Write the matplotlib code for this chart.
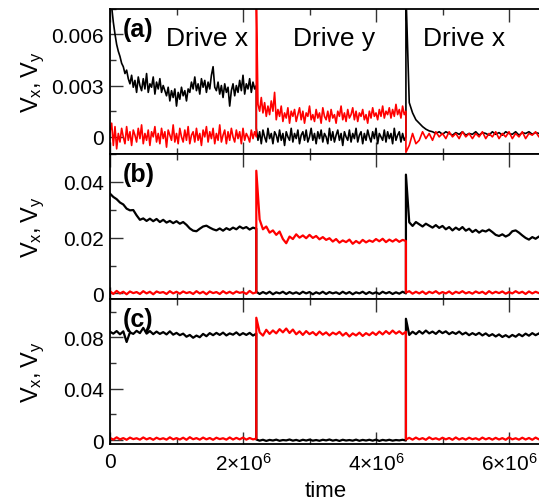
import numpy as np
import matplotlib
matplotlib.use("Agg")
import matplotlib.pyplot as plt
from matplotlib.ticker import MultipleLocator, FuncFormatter

plt.rcParams['font.family'] = ['Liberation Sans', 'DejaVu Sans']
plt.rcParams['mathtext.fontset'] = 'custom'
plt.rcParams['mathtext.rm'] = 'Liberation Sans'
plt.rcParams['mathtext.it'] = 'Liberation Sans:italic'

# switching times of the drive direction (x -> y -> x)
t_switch = [0.0, 2.2e6, 4.45e6, 6.5e6]
phase_names = ['Drive x', 'Drive y', 'Drive x']

# all velocities below in units of 1e-3, one list per drive phase
# ---- panel (a)
a_vx_1 = [8.5, 7.6, 6.7, 6.0, 5.4, 5.0, 4.7, 4.3, 4.1, 3.7, 3.9, 3.4, 3.1, 3.6, 2.9, 3.3,
          2.6, 3.5, 3.0, 2.7, 3.4, 2.8, 3.7, 2.6, 3.1, 2.9, 3.5, 2.5, 3.2, 2.8, 3.4, 2.6, 3.0, 2.7,
          2.4, 2.9, 2.1, 2.7, 2.3, 2.8, 1.8, 2.6, 2.2, 2.9, 2.4, 2.7, 2.1, 2.8,
          2.6, 3.2, 2.8, 3.5, 2.7, 3.1, 2.5, 3.4, 2.9, 3.3, 2.6, 3.2, 2.8, 3.6, 4.1, 2.9,
          2.7, 3.2, 2.5, 3.0, 2.3, 3.1, 2.6, 2.9, 1.8, 2.7, 3.1, 2.4,
          3.0, 2.6, 3.3, 2.7, 3.6, 2.5, 3.1, 2.8, 3.4, 2.6, 3.2, 2.8, 3.0]
a_vy_1 = [0.3, 0.8, -0.5, 0.6, -0.7, 0.2, -0.3, 0.5, 0.0, -0.4,
          0.6, -0.2, 0.3, -0.5, 0.4, 0.1, -0.3, 0.5, -0.1, 0.7,
          -0.4, 0.2, -0.2, 0.4, -0.5, 0.3, 0.0, 0.6, -0.3, 0.2,
          -0.4, 0.5, -0.1, 0.3, -0.6, 0.4, 0.1, -0.2, 0.7, -0.3,
          0.2, -0.4, 0.5, 0.0, -0.3, 0.4, -0.2, 0.6, -0.4, 0.1,
          0.3, -0.3, 0.5, -0.2, 0.2, -0.5, 0.4, 0.0, 0.6, -0.3,
          0.3, -0.1, 0.5, -0.4, 0.2, -0.2, 0.7, -0.3, 0.1, 0.4,
          -0.4, 0.3, -0.2, 0.5, 0.0, -0.3, 0.4, -0.1, 0.3, -0.4,
          0.5, -0.2, 0.2, 0.0, -0.3, 0.4, -0.1, 0.3, 0.0]
a_vx_2 = [0.5, -0.2, 0.3, -0.4, 0.4, 0.0, -0.3, 0.5, -0.1, 0.2,
          -0.4, 0.3, 0.1, -0.3, 0.4, -0.2, 0.2, -0.5, 0.3, 0.0,
          -0.2, 0.5, -0.3, 0.2, -0.1, 0.4, -0.4, 0.1, 0.3, -0.2,
          0.4, -0.3, 0.0, 0.5, -0.2, 0.2, -0.4, 0.3, -0.1, 0.4,
          -0.3, 0.2, 0.0, -0.4, 0.5, -0.2, 0.3, -0.3, 0.1, 0.4,
          -0.2, 0.2, -0.5, 0.3, 0.0, -0.2, 0.4, -0.3, 0.2, -0.1,
          0.5, -0.3, 0.1, 0.3, -0.4, 0.2, -0.2, 0.4, 0.0, -0.3,
          0.3, -0.1, 0.5, -0.4, 0.2, 0.0, -0.2, 0.4, -0.3, 0.3,
          -0.1, 0.2, -0.4, 0.5, -0.2, 0.1, 0.3, -0.3, 0.2, -0.2,
          0.0]
a_vy_2 = [8.5, 1.9, 1.5, 2.3, 1.4, 2.0, 1.2, 1.8, 1.3, 2.1,
          1.5, 2.6, 1.0, 1.6, 1.2, 1.8, 0.9, 1.4, 1.1, 1.7,
          0.8, 1.5, 1.2, 1.6, 0.9, 1.3, 1.7, 1.0, 1.5, 0.8,
          1.4, 1.2, 1.8, 1.0, 1.3, 0.9, 1.6, 1.1, 1.4, 0.8,
          1.7, 1.2, 1.0, 1.5, 0.9, 1.6, 1.1, 1.3, 0.8, 1.5,
          1.2, 1.8, 1.0, 1.4, 0.9, 1.6, 1.1, 1.3, 1.7, 1.0,
          1.5, 0.9, 1.4, 1.2, 1.6, 1.0, 1.3, 0.8, 1.5, 1.1,
          1.7, 1.2, 1.4, 1.0, 1.6, 1.2, 1.8, 1.1, 1.5, 1.3,
          1.7, 1.1, 1.6, 1.2, 1.9, 1.3, 1.6, 1.1, 1.8, 1.3,
          1.5]
a_vx_3 = [8.5, 2.0, 1.4, 1.0, 0.8, 0.6, 0.45, 0.35, 0.3, 0.2,
          0.3, 0.15, 0.3, 0.2, 0.1, 0.25, 0.15, 0.3, 0.1, 0.2,
          0.15, 0.3, 0.1, 0.25, 0.2, 0.1, 0.3, 0.15, 0.25, 0.1,
          0.3, 0.2, 0.15, 0.3, 0.1, 0.25, 0.2, 0.3, 0.15, 0.25,
          0.2, 0.2]
a_vy_3 = [-0.9, -0.5, 0.2, -0.4, -0.2, 0.3, -0.1, 0.2, -0.2, 0.3,
          0.0, 0.2, -0.1, 0.3, 0.0, 0.2, -0.1, 0.3, 0.0, 0.2,
          -0.1, 0.2, 0.0, 0.3, -0.1, 0.2, 0.0, 0.3, -0.1, 0.2,
          0.0, 0.3, -0.1, 0.2, 0.0, 0.3, -0.1, 0.2, 0.1, 0.3,
          0.0, 0.2]

# ---- panel (b)
b_vx_1 = [35.8, 34.6, 33.8, 32.6, 31.9, 30.4, 29.8, 29.9, 28.0, 26.4,
          26.9, 26.0, 26.8, 25.9, 26.7, 25.6, 26.4, 25.4, 26.0, 25.2,
          25.9, 25.0, 25.6, 24.6, 23.3, 22.5, 22.3, 23.2, 24.0, 24.3,
          23.6, 23.0, 22.6, 23.3, 22.5, 23.4, 22.8, 23.6, 23.0, 24.0,
          23.3, 23.8, 22.9, 23.6, 23.2]
b_vy_1 = [0.8, -0.2, 0.9, 0.0, 0.6, -0.3, 0.7, 0.1, 0.5, -0.2,
          0.8, 0.0, 0.6, -0.3, 0.7, 0.2, 0.5, -0.2, 0.8, 0.0,
          0.6, -0.1, 0.7, 0.1, 0.5, -0.2, 0.8, 0.0, 0.6, -0.3,
          0.7, 0.1, 0.5, -0.2, 0.8, 0.0, 0.6, -0.1, 0.7, 0.2,
          0.5, -0.2, 0.9, 0.0, 0.4]
b_vx_2 = [0.6, -0.2, 0.5, -0.1, 0.6, -0.3, 0.4, 0.0, 0.6, -0.2,
          0.5, -0.1, 0.4, -0.2, 0.6, 0.0, 0.5, -0.3, 0.4, -0.1,
          0.6, -0.2, 0.5, 0.0, 0.4, -0.2, 0.6, -0.1, 0.5, -0.3,
          0.4, 0.0, 0.6, -0.2, 0.5, -0.1, 0.4, -0.2, 0.6, 0.0,
          0.5, -0.2, 0.4, -0.1, 0.6, 0.0]
b_vy_2 = [44.0, 26.5, 23.0, 24.0, 21.8, 22.6, 21.0, 22.2, 19.5, 18.0,
          20.4, 19.5, 21.2, 20.0, 20.8, 19.8, 21.0, 19.9, 20.6, 19.4,
          20.2, 19.2, 19.8, 18.6, 19.5, 18.2, 19.0, 18.4, 19.3, 17.8,
          18.8, 18.0, 19.2, 18.3, 19.0, 18.5, 19.5, 18.7, 19.6, 18.4,
          19.3, 18.6, 19.4, 18.5, 19.2, 18.8]
b_vx_3 = [42.6, 25.5, 24.2, 25.6, 24.8, 24.0, 25.0, 24.3, 23.6, 24.5,
          23.5, 24.2, 23.0, 23.8, 22.6, 23.6, 22.8, 23.8, 22.5, 23.2,
          22.0, 22.8, 21.8, 22.6, 22.2, 22.9, 22.0, 21.0, 20.6, 21.2,
          20.4, 21.0, 22.3, 22.6, 21.8, 20.8, 19.9, 19.3, 20.2, 19.6,
          20.4, 19.8]
b_vy_3 = [0.3, 0.8, -0.1, 0.6, 0.0, 0.7, -0.2, 0.6, 0.1, 0.8,
          -0.1, 0.5, 0.0, 0.7, -0.2, 0.6, 0.1, 0.8, 0.0, 0.5,
          -0.1, 0.7, 0.1, 0.6, -0.2, 0.8, 0.0, 0.6, 0.1, 0.7,
          -0.1, 0.5, 0.0, 0.8, 0.1, 0.6, -0.2, 0.7, 0.0, 0.6,
          0.1, 0.5]

# ---- panel (c)
c_vx_1 = [84.5, 83.0, 85.0, 82.5, 84.8, 76.5, 84.0, 82.8, 85.2, 83.4,
          87.5, 83.0, 85.0, 82.6, 84.6, 82.8, 84.2, 82.4, 84.8, 82.2,
          83.6, 81.8, 83.0, 80.6, 82.0, 79.8, 81.5, 80.2, 82.8, 81.0,
          83.4, 81.8, 83.6, 82.0, 83.8, 81.6, 83.2, 82.2, 84.0, 81.8,
          83.4, 82.0, 83.6, 81.5, 83.0]
c_vy_1 = [1.8, 0.4, 2.2, 0.6, 1.6, 0.3, 2.0, 0.8, 1.5, 0.4,
          2.1, 0.6, 1.7, 0.3, 1.9, 0.7, 1.5, 0.4, 2.2, 0.6,
          1.6, 0.5, 1.9, 0.3, 2.3, 0.7, 1.6, 0.4, 2.0, 0.6,
          1.7, 0.3, 1.9, 0.8, 1.5, 0.4, 2.1, 0.5, 1.8, 0.6,
          2.0, 0.4, 1.7, 0.6, 1.2]
c_vx_2 = [0.5, -0.4, 0.3, -0.6, 0.2, -0.3, 0.4, -0.5, 0.1, -0.2,
          0.5, -0.4, 0.2, -0.6, 0.3, -0.3, 0.4, -0.4, 0.1, -0.5,
          0.3, -0.2, 0.5, -0.4, 0.2, -0.6, 0.3, -0.3, 0.1, -0.4,
          0.4, -0.5, 0.2, -0.3, 0.3, -0.4, 0.4, -0.6, 0.2, -0.3,
          0.3, -0.4, 0.1, -0.2, 0.3, -0.3]
c_vy_2 = [95.4, 84.0, 81.5, 86.0, 82.8, 85.5, 83.2, 86.5, 84.0, 87.0,
          83.5, 86.2, 82.5, 84.8, 82.0, 85.0, 82.6, 84.2, 81.8, 84.6,
          82.2, 84.0, 81.6, 83.8, 82.4, 84.4, 81.5, 83.6, 80.8, 83.2,
          81.6, 83.8, 81.2, 83.4, 81.8, 84.0, 82.0, 84.6, 82.4, 85.0,
          82.8, 85.4, 83.0, 84.8, 82.6, 84.5]
c_vx_3 = [94.6, 82.0, 84.5, 82.6, 85.0, 83.0, 85.4, 83.2, 84.6, 82.8,
          85.2, 83.4, 84.8, 82.6, 84.2, 82.8, 84.6, 82.4, 83.8, 81.8,
          83.4, 82.0, 83.6, 81.6, 83.2, 81.2, 82.6, 80.8, 82.4, 80.4,
          81.8, 80.2, 82.0, 80.6, 82.6, 81.0, 83.0, 81.4, 83.4, 81.8,
          83.2, 82.0]
c_vy_3 = [0.5, 1.8, 0.4, 2.0, 0.6, 1.6, 0.3, 2.2, 0.7, 1.5,
          0.4, 1.9, 0.6, 1.7, 0.3, 2.1, 0.5, 1.6, 0.4, 1.9,
          0.7, 1.5, 0.3, 2.0, 0.6, 1.7, 0.4, 1.8, 0.5, 1.6,
          0.3, 2.1, 0.6, 1.5, 0.4, 1.9, 0.5, 1.7, 0.3, 2.0,
          0.6, 1.6]

panels = [
    ('(a)', [a_vx_1, a_vx_2, a_vx_3], [a_vy_1, a_vy_2, a_vy_3], (-0.001, 0.0075), 0.003, 0.0015, 1.2),
    ('(b)', [b_vx_1, b_vx_2, b_vx_3], [b_vy_1, b_vy_2, b_vy_3], (-0.002, 0.050), 0.02, 0.01, 1.6),
    ('(c)', [c_vx_1, c_vx_2, c_vx_3], [c_vy_1, c_vy_2, c_vy_3], (-0.003, 0.110), 0.04, 0.02, 1.6),
]


def join_phases(parts):
    # each drive phase is sampled evenly between its switching times
    t = np.concatenate([np.linspace(t_switch[i], t_switch[i + 1], len(p))
                        for i, p in enumerate(parts)])
    v = np.concatenate([np.array(p) for p in parts]) * 1e-3
    return t, v


def ylab(v, pos):
    return '0' if abs(v) < 1e-12 else '%g' % v


def xlab(v, pos):
    if abs(v) < 1:
        return '0'
    return r'$\mathregular{%d{\times}10^{6}}$' % round(v / 1e6)


fig = plt.figure(figsize=(5.39, 5.02), dpi=100)

W, H = 539.0, 502.0
left_px, width_px = 110.0, 432.25
tops = [9.5, 155.0, 300.0]
bottoms = [155.0, 300.0, 445.0]

for i, (tag, vx_parts, vy_parts, ylim, major, minor, lw) in enumerate(panels):
    ax = fig.add_axes([left_px / W, 1 - bottoms[i] / H,
                       width_px / W, (bottoms[i] - tops[i]) / H])

    t, vx = join_phases(vx_parts)
    ax.plot(t, vx, color='black', lw=lw)
    t, vy = join_phases(vy_parts)
    ax.plot(t, vy, color='red', lw=lw)

    ax.set_xlim(t_switch[0], t_switch[-1])
    ax.set_ylim(*ylim)
    ax.xaxis.set_major_locator(MultipleLocator(2e6))
    ax.xaxis.set_minor_locator(MultipleLocator(1e6))
    ax.yaxis.set_major_locator(MultipleLocator(major))
    ax.yaxis.set_minor_locator(MultipleLocator(minor))
    ax.yaxis.set_major_formatter(FuncFormatter(ylab))
    ax.xaxis.set_major_formatter(FuncFormatter(xlab))

    ax.tick_params(which='both', direction='in', top=True, right=False,
                   width=1.0, color='#333333')
    ax.tick_params(which='major', length=9, labelsize=15)
    ax.tick_params(which='minor', length=4.5)
    ax.tick_params(axis='y', pad=4.5)
    ax.tick_params(axis='x', pad=5.5)
    for s in ax.spines.values():
        s.set_linewidth(1.3)
    if i < 2:
        ax.tick_params(labelbottom=False)

    ax.set_ylabel(r'$\mathregular{V_x, V_y}$', fontsize=17)
    ax.yaxis.set_label_coords(-0.145, 0.5)

    ax.text(0.03, 0.86, tag, transform=ax.transAxes, fontsize=18,
            fontweight='bold', ha='left', va='center')

    if i == 0:
        for name, xc in zip(phase_names, [1.466e6, 3.376e6, 5.331e6]):
            ax.text(xc, 0.80, name, transform=ax.get_xaxis_transform(),
                    fontsize=19, ha='center', va='center')
    if i == 2:
        ax.set_xlabel('time', fontsize=16)
        ax.xaxis.set_label_coords(0.5, -0.25)

fig.savefig('out.png', dpi=100)
